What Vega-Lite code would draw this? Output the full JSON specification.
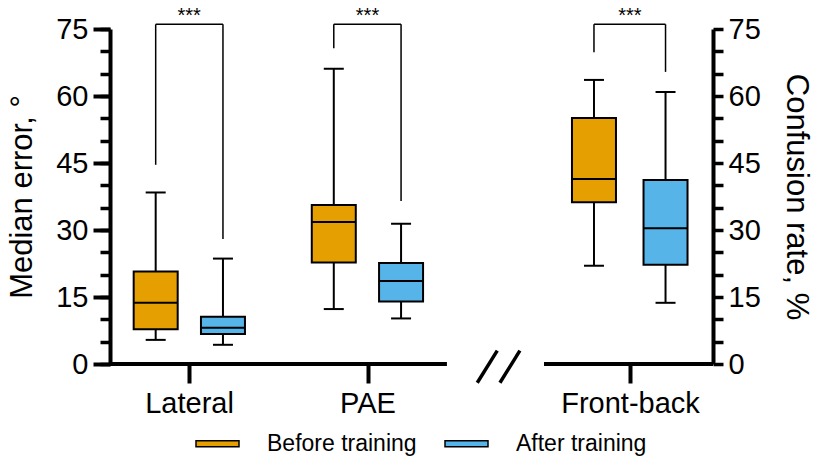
{
  "$schema": "https://vega.github.io/schema/vega-lite/v6.json",
  "width": 603,
  "height": 335,
  "autosize": {"type": "none"},
  "padding": {"left": 110, "top": 29, "right": 101, "bottom": 93},
  "config": {
    "font": "Liberation Sans",
    "view": {"stroke": null},
    "axis": {"grid": false, "domainColor": "black", "tickColor": "black", "labelColor": "black", "titleColor": "black", "titleFontWeight": "normal"}
  },
  "datasets": {
    "boxes": [
      {"cat": "Lateral", "group": "Before training", "x": 0.813, "min": 5.4, "q1": 7.8, "med": 13.7, "q3": 20.7, "max": 38.4},
      {"cat": "Lateral", "group": "After training", "x": 1.19, "min": 4.3, "q1": 6.7, "med": 8.1, "q3": 10.6, "max": 23.6},
      {"cat": "PAE", "group": "Before training", "x": 1.811, "min": 12.3, "q1": 22.7, "med": 31.8, "q3": 35.6, "max": 66.1},
      {"cat": "PAE", "group": "After training", "x": 2.188, "min": 10.2, "q1": 14.0, "med": 18.6, "q3": 22.6, "max": 31.4},
      {"cat": "Front-back", "group": "Before training", "x": 3.269, "min": 22.0, "q1": 36.2, "med": 41.4, "q3": 55.1, "max": 63.6},
      {"cat": "Front-back", "group": "After training", "x": 3.67, "min": 13.7, "q1": 22.2, "med": 30.4, "q3": 41.2, "max": 60.9}
    ],
    "brackets": [
      {"cat": "Lateral", "x1": 0.813, "x2": 1.19, "xm": 1.0, "ytop": 76.05, "yl": 44.6, "yr": 28.0, "ys": 76.6, "sig": "***"},
      {"cat": "PAE", "x1": 1.811, "x2": 2.188, "xm": 2.0, "ytop": 76.05, "yl": 70.7, "yr": 36.5, "ys": 76.6, "sig": "***"},
      {"cat": "Front-back", "x1": 3.269, "x2": 3.67, "xm": 3.47, "ytop": 76.05, "yl": 69.8, "yr": 65.4, "ys": 76.6, "sig": "***"}
    ],
    "xline": [{"a": 0.557, "b": 2.445}, {"a": 2.989, "b": 3.936}],
    "slashes": [
      {"x1": 2.615, "x2": 2.727, "y1": -4.2, "y2": 3.0},
      {"x1": 2.742, "x2": 2.854, "y1": -4.2, "y2": 3.0}
    ]
  },
  "resolve": {"axis": {"x": "independent", "y": "independent"}},
  "layer": [
    {
      "data": {"name": "boxes"},
      "mark": {"type": "rule", "color": "black", "strokeWidth": 2},
      "encoding": {
        "x": {"field": "x", "type": "quantitative", "scale": {"domain": [0.557, 3.936], "nice": false, "zero": false, "padding": 0},
              "axis": {"values": [1, 2, 3.471], "labelExpr": "datum.value < 1.5 ? 'Lateral' : datum.value < 2.5 ? 'PAE' : 'Front-back'", "domain": false, "tickSize": 19, "tickWidth": 4, "labelFontSize": 29, "labelPadding": 6, "title": null, "labelFlush": false, "labelOverlap": false}},
        "y": {"field": "min", "type": "quantitative", "scale": {"domain": [0, 75], "nice": false, "zero": true, "padding": 0},
              "axis": {"orient": "left", "values": [0,5,10,15,20,25,30,35,40,45,50,55,60,65,70,75], "tickSize": 10, "tickWidth": 3.5, "labels": false, "domain": false, "title": null}},
        "y2": {"field": "max"}
      }
    },
    {
      "data": {"name": "boxes"},
      "mark": {"type": "bar", "width": 44, "stroke": "black", "strokeWidth": 2, "opacity": 1},
      "encoding": {
        "x": {"field": "x", "type": "quantitative", "axis": null},
        "y": {"field": "q1", "type": "quantitative",
              "axis": {"orient": "left", "values": [0,15,30,45,60,75], "tickSize": 17, "tickWidth": 4, "domainWidth": 4, "labelFontSize": 29, "labelPadding": 5, "title": "Median error, °", "titleFontSize": 31, "titlePadding": 17}},
        "y2": {"field": "q3"},
        "fill": {"field": "group", "type": "nominal",
                 "scale": {"domain": ["Before training", "After training"], "range": ["#E69F00", "#56B4E9"]},
                 "legend": {"orient": "none", "legendX": 85, "legendY": 392, "direction": "horizontal", "title": null,
                            "symbolType": "M-1,-0.14H1V0.14H-1Z", "symbolSize": 1849, "symbolStrokeColor": "black", "symbolStrokeWidth": 1.5,
                            "labelFontSize": 23, "labelOffset": 27, "columnPadding": 25, "padding": 0, "symbolOpacity": 1, "labelColor": "black"}}
      }
    },
    {
      "data": {"name": "boxes"},
      "mark": {"type": "tick", "orient": "horizontal", "size": 44, "thickness": 2, "color": "black", "opacity": 1},
      "encoding": {
        "x": {"field": "x", "type": "quantitative", "axis": null},
        "y": {"field": "med", "type": "quantitative",
              "axis": {"orient": "right", "values": [0,5,10,15,20,25,30,35,40,45,50,55,60,65,70,75], "labelExpr": "datum.value % 15 === 0 ? datum.label : ''", "tickSize": 10, "tickWidth": 3.5, "domainWidth": 4, "labelFontSize": 29, "labelPadding": 5, "title": "Confusion rate, %", "titleFontSize": 31, "titleAngle": 90, "titlePadding": 19}}
      }
    },
    {
      "data": {"name": "boxes"},
      "mark": {"type": "tick", "orient": "horizontal", "size": 20, "thickness": 2, "color": "black", "opacity": 1},
      "encoding": {
        "x": {"field": "x", "type": "quantitative", "axis": null},
        "y": {"field": "min", "type": "quantitative", "axis": null}
      }
    },
    {
      "data": {"name": "boxes"},
      "mark": {"type": "tick", "orient": "horizontal", "size": 20, "thickness": 2, "color": "black", "opacity": 1},
      "encoding": {
        "x": {"field": "x", "type": "quantitative", "axis": null},
        "y": {"field": "max", "type": "quantitative", "axis": null}
      }
    },
    {
      "data": {"name": "brackets"},
      "mark": {"type": "rule", "color": "black", "strokeWidth": 1.5},
      "encoding": {
        "x": {"field": "x1", "type": "quantitative", "axis": null},
        "x2": {"field": "x2"},
        "y": {"field": "ytop", "type": "quantitative", "axis": null}
      }
    },
    {
      "data": {"name": "brackets"},
      "mark": {"type": "rule", "color": "black", "strokeWidth": 1.5},
      "encoding": {
        "x": {"field": "x1", "type": "quantitative", "axis": null},
        "y": {"field": "yl", "type": "quantitative", "axis": null},
        "y2": {"field": "ytop"}
      }
    },
    {
      "data": {"name": "brackets"},
      "mark": {"type": "rule", "color": "black", "strokeWidth": 1.5},
      "encoding": {
        "x": {"field": "x2", "type": "quantitative", "axis": null},
        "y": {"field": "yr", "type": "quantitative", "axis": null},
        "y2": {"field": "ytop"}
      }
    },
    {
      "data": {"name": "brackets"},
      "mark": {"type": "text", "fontSize": 20, "baseline": "alphabetic", "align": "center", "color": "black"},
      "encoding": {
        "x": {"field": "xm", "type": "quantitative", "axis": null},
        "y": {"field": "ys", "type": "quantitative", "axis": null},
        "text": {"field": "sig"}
      }
    },
    {
      "data": {"name": "xline"},
      "mark": {"type": "rule", "color": "black", "strokeWidth": 4},
      "encoding": {
        "x": {"field": "a", "type": "quantitative", "axis": null},
        "x2": {"field": "b"},
        "y": {"datum": 0, "type": "quantitative", "axis": null}
      }
    },
    {
      "data": {"name": "slashes"},
      "mark": {"type": "rule", "color": "black", "strokeWidth": 3.5},
      "encoding": {
        "x": {"field": "x1", "type": "quantitative", "axis": null},
        "x2": {"field": "x2"},
        "y": {"field": "y1", "type": "quantitative", "axis": null},
        "y2": {"field": "y2"}
      }
    }
  ]
}
